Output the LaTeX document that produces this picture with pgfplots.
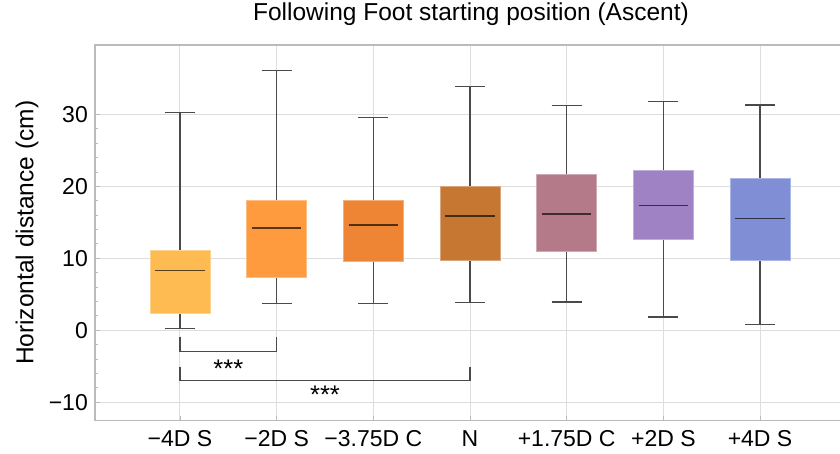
\documentclass[border=0pt]{standalone}
\usepackage{fontspec}
\setmainfont{Liberation Sans}
\usepackage{pgfplots}
\pgfplotsset{compat=1.18}
\usepgfplotslibrary{statistics}
\definecolor{c1}{HTML}{FDBB52}
\definecolor{c2}{HTML}{FE9B3F}
\definecolor{c3}{HTML}{EE8534}
\definecolor{c4}{HTML}{C67833}
\definecolor{c5}{HTML}{B57A8A}
\definecolor{c6}{HTML}{9E82C3}
\definecolor{c7}{HTML}{7F8ED5}
\definecolor{framec}{HTML}{BBBBBB}
\definecolor{gridc}{HTML}{DEDEDE}
\definecolor{whisk}{HTML}{4A4A4A}
\pgfplotsset{
  mybox/.style={
    boxplot/draw direction=y,
    boxplot/box extend=0.62,
    boxplot/whisker extend=0.31,
    fill=#1, draw=#1!65!white, line width=0.8pt,
    boxplot/every whisker/.style={draw=whisk, line width=1.1pt},
    boxplot/every median/.style={draw=#1!35!black, line width=1.4pt},
    boxplot/draw/median/.code={%
      \draw[/pgfplots/boxplot/every median/.try]
        (boxplot box cs:\pgfplotsboxplotvalue{median},0.09) --
        (boxplot box cs:\pgfplotsboxplotvalue{median},0.91);
    },
  }
}
\begin{document}
\begin{tikzpicture}
\path[use as bounding box] (-95pt,-32.3pt) rectangle (745pt,420.7pt);
\begin{axis}[
  scale only axis,
  width=750pt, height=375.7pt,
  xmin=-0.879, xmax=6.879,
  ymin=-12.56, ymax=39.63,
  xtick={0,1,2,3,4,5,6},
  xticklabels={−4D S,−2D S,−3.75D C,N,+1.75D C,+2D S,+4D S},
  ytick={-10,0,10,20,30},
  yticklabels={−10,0,10,20,30},
  minor y tick num=4,
  xtick pos=bottom, ytick pos=left,
  tick align=inside,
  major tick length=5pt, minor tick length=3pt,
  tick style={draw=framec, line width=0.8pt},
  grid=major,
  major grid style={draw=gridc, line width=1pt},
  axis line style={draw=framec, line width=1.3pt},
  tick label style={font=\fontsize{23}{27}\selectfont},
  xticklabel style={anchor=base, yshift=-26pt, inner sep=0pt},
  yticklabel style={anchor=east, inner sep=0pt, xshift=-7pt},
  ylabel={Horizontal distance (cm)},
  ylabel style={at={(axis description cs:-0.0907,0.5)}, anchor=center, font=\fontsize{24.5}{29}\selectfont},
  title={Following Foot starting position (Ascent)},
  title style={at={(axis description cs:0.5013,1.0479)}, anchor=base, font=\fontsize{24.5}{29}\selectfont, inner sep=0pt},
  clip=false,
]
\addplot[boxplot prepared={draw position=0, lower whisker=0.23, lower quartile=2.4, median=8.3, upper quartile=11.07, upper whisker=30.3}, mybox=c1] coordinates {};
\addplot[boxplot prepared={draw position=1, lower whisker=3.75, lower quartile=7.4, median=14.2, upper quartile=18.1, upper whisker=36.05}, mybox=c2] coordinates {};
\addplot[boxplot prepared={draw position=2, lower whisker=3.75, lower quartile=9.6, median=14.6, upper quartile=18.1, upper whisker=29.5}, mybox=c3] coordinates {};
\addplot[boxplot prepared={draw position=3, lower whisker=3.9, lower quartile=9.76, median=15.9, upper quartile=20.0, upper whisker=33.9}, mybox=c4] coordinates {};
\addplot[boxplot prepared={draw position=4, lower whisker=3.93, lower quartile=11.0, median=16.15, upper quartile=21.6, upper whisker=31.2}, mybox=c5] coordinates {};
\addplot[boxplot prepared={draw position=5, lower whisker=1.85, lower quartile=12.6, median=17.36, upper quartile=22.2, upper whisker=31.75}, mybox=c6] coordinates {};
\addplot[boxplot prepared={draw position=6, lower whisker=0.78, lower quartile=9.76, median=15.5, upper quartile=21.06, upper whisker=31.3}, mybox=c7] coordinates {};
% significance brackets
\addplot[draw=whisk, line width=1.1pt, mark=none] coordinates {(0,-0.93) (0,-2.97) (1,-2.97) (1,-0.93)};
\addplot[draw=whisk, line width=1.1pt, mark=none] coordinates {(0,-5.05) (0,-7.0) (3,-7.0) (3,-5.05)};
\node[anchor=base, inner sep=0pt, font=\fontsize{25.5}{29}\selectfont] at (axis cs:0.5,-6.6) {***};
\node[anchor=base, inner sep=0pt, font=\fontsize{25.5}{29}\selectfont] at (axis cs:1.5,-10.15) {***};
\end{axis}
\end{tikzpicture}
\end{document}
